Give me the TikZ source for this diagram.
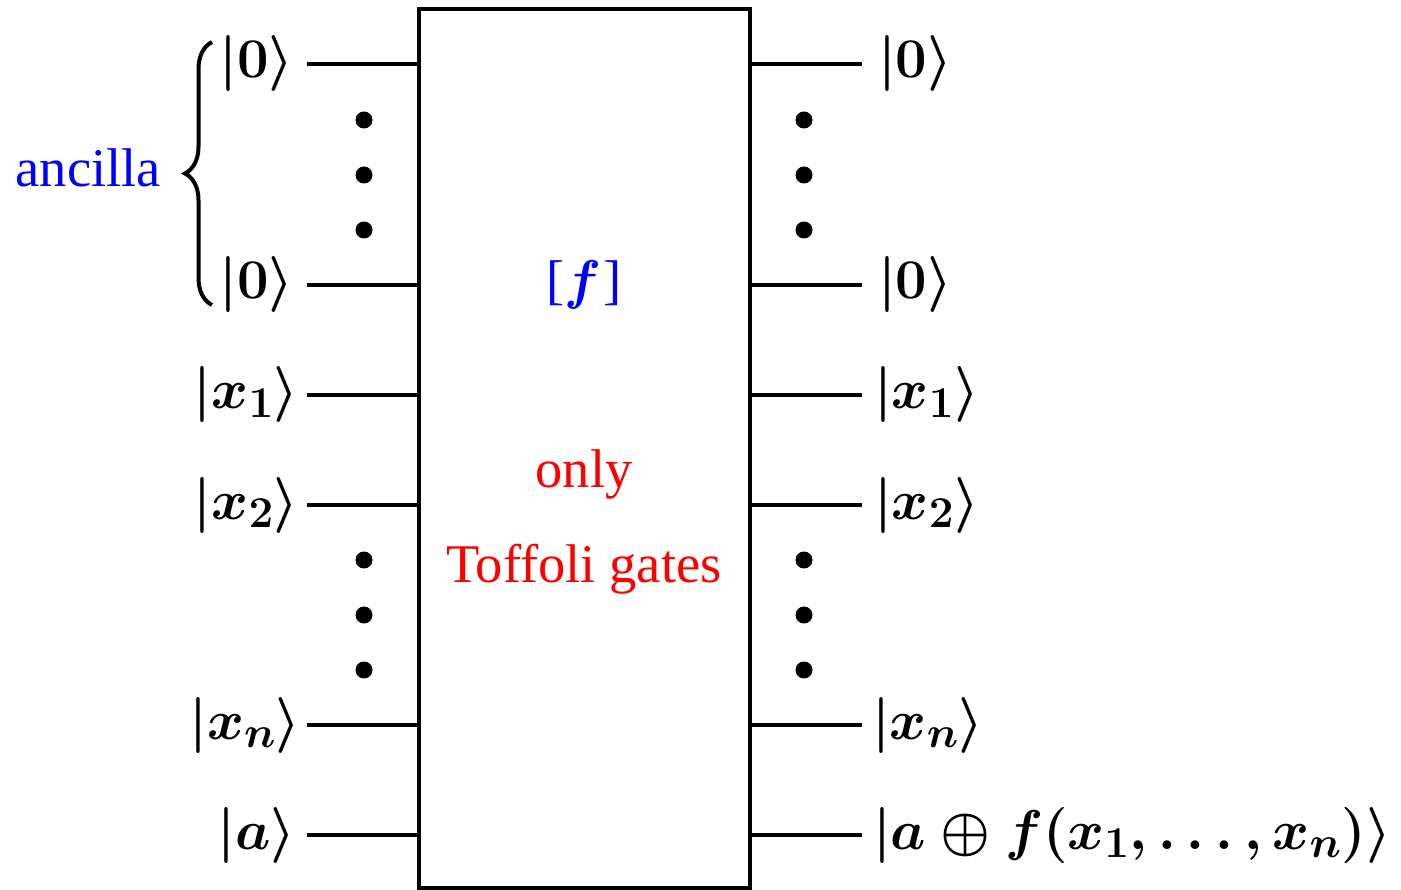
\RequirePackage{fix-cm}
\documentclass[tikz,border=0pt]{standalone}
\usepackage[no-math]{fontspec}
\setmainfont{Liberation Serif}
\DeclareMathSizes{56}{56}{44}{36}
\usetikzlibrary{decorations.pathreplacing}
\begin{document}
\begin{tikzpicture}[x=1pt,y=-1pt,
  every node/.style={inner sep=0pt,outer sep=0pt},
  ketlabel/.style={font=\fontsize{56}{64}\selectfont\boldmath},
  txtlabel/.style={font=\fontsize{54.5}{62}\selectfont\boldmath},
  wire/.style={line width=3.5pt},
  dotmark/.style={fill=black}]
\useasboundingbox (0,0) rectangle (1401,890);
% box
\node[draw,line width=4pt,minimum width=331pt,minimum height=879pt,anchor=north west] (box) at (419,9) {};
% wire ends
\foreach \n/\y in {a/64,b/285,c/395,d/505,e/725,f/835}{
  \coordinate (L\n) at (307,\y);
  \coordinate (R\n) at (862,\y);
  \draw[wire] (L\n) -- (box.west |- L\n);
  \draw[wire] (box.east |- R\n) -- (R\n);
}
% left labels
\node[ketlabel,anchor=east] (la) at (294,64) {$|0\rangle$};
\node[ketlabel,anchor=east] (lb) at (294,285) {$|0\rangle$};
\node[ketlabel,anchor=east] (lc) at (299,395) {$|x_1\rangle$};
\node[ketlabel,anchor=east] (ld) at (299,505) {$|x_2\rangle$};
\node[ketlabel,anchor=east] (le) at (301,725) {$|x_n\rangle$};
\node[ketlabel,anchor=east] (lf) at (296,835) {$|a\rangle$};
% right labels
\node[ketlabel,anchor=west] (ra) at (878,64) {$|0\rangle$};
\node[ketlabel,anchor=west] (rb) at (878,285) {$|0\rangle$};
\node[ketlabel,anchor=west] (rc) at (874,395) {$|x_1\rangle$};
\node[ketlabel,anchor=west] (rd) at (874,505) {$|x_2\rangle$};
\node[ketlabel,anchor=west] (re) at (872,725) {$|x_n\rangle$};
\node[ketlabel,anchor=west] (rf) at (873,835) {$|a\oplus f(x_1,\ldots,x_n)\rangle$};
% dots
\foreach \y in {120,175,230,560,615,670}{
  \fill[dotmark] (364,\y) circle (8.5);
  \fill[dotmark] (804,\y) circle (8.5);
}
% brace
\coordinate (bt) at (212,42);
\coordinate (bb) at (212,305);
\draw[line width=4pt,decorate,decoration={brace,amplitude=27pt}] (bb) -- (bt);
\node[txtlabel,anchor=base east,text=blue] (anc) at (161,187) {ancilla};
% inner text
\node[txtlabel,text=blue] (fl) at (584,285) {[$f$\kern2pt]};
\node[txtlabel,anchor=base,text=red] (only) at (584,488) {only};
\node[txtlabel,anchor=base,text=red] (toff) at (584,582) {Toffoli gates};
\end{tikzpicture}
\end{document}
